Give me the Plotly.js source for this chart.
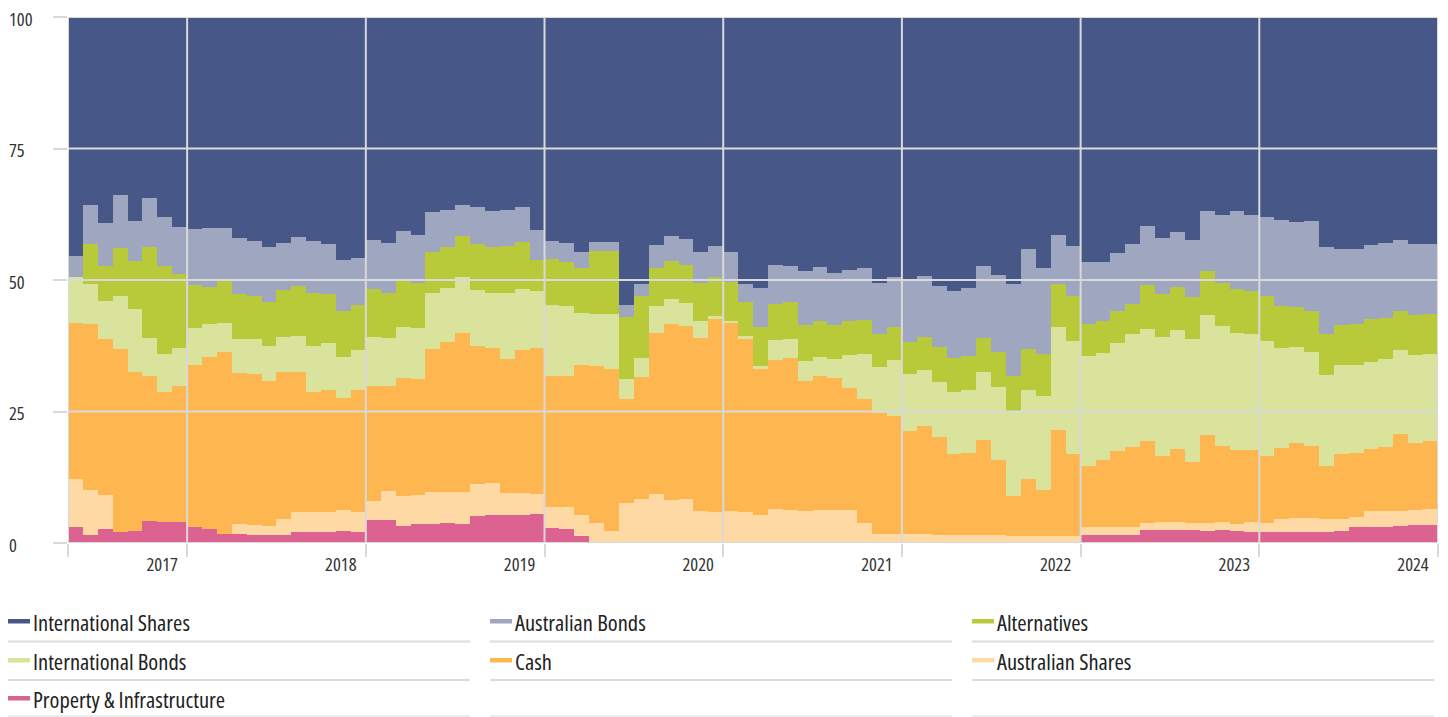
<!DOCTYPE html>
<html><head><meta charset="utf-8">
<script src="https://cdn.plot.ly/plotly-3.0.1.min.js"></script>
<style>html,body{margin:0;padding:0;background:#fff}#chart{width:1448px;height:717px}text{font-stretch:87.5% !important}</style>
</head><body><div id="chart"></div>
<script>
// Monthly asset allocation (%), Nov 2016 – Jun 2024, stacked bottom to top
const property = [3.0,1.6,2.6,2.1,2.2,4.1,4.0,3.9,3.1,2.6, 1.8,1.8,1.6,1.6,1.6,2.1,2.1,2.1,2.3,2.1, 4.3,4.3,3.3,3.6,3.7,3.8,3.6,5.2,5.3,5.3, 5.4,5.6,2.8,2.6,1.3,0,0,0,0,0, 0,0,0,0,0,0,0,0,0,0, 0,0,0,0,0,0,0,0,0,0, 0,0,0,0,0,0,0,0,1.6,1.6, 1.6,1.6,2.5,2.5,2.4,2.4,2.3,2.5,2.3,2.1, 2.0,2.0,2.1,2.0,2.0,2.3,3.0,3.0,3.1,3.2, 3.4,3.4];
const ausShares = [9.2,8.5,6.5,0,0,0,0,0,0,0, 0,1.8,1.8,1.7,3.0,3.7,3.8,3.8,4.0,3.8, 3.6,5.6,5.6,5.6,6.0,5.9,6.1,6.1,6.1,4.3, 4.1,3.8,4.0,4.2,4.0,3.8,2.2,7.7,8.4,9.4, 8.1,8.3,6.0,5.9,6.1,5.8,5.4,6.4,6.2,6.1, 6.2,6.2,6.2,3.8,1.8,1.7,1.7,1.7,1.6,1.5, 1.5,1.5,1.5,1.3,1.3,1.3,1.4,1.4,1.4,1.4, 1.4,1.4,1.3,1.4,1.5,1.4,1.5,1.4,1.3,1.8, 1.8,2.6,2.7,2.8,2.6,2.3,2.0,3.0,2.9,2.9, 2.9,3.0];
const cash = [29.7,31.6,29.6,34.8,30.4,27.6,24.7,26.0,30.8,32.8, 34.5,28.7,28.7,27.5,28.0,26.8,22.8,23.2,21.3,23.2, 22.0,20.0,22.4,21.9,27.2,28.5,30.3,26.1,25.6,25.3, 27.1,27.7,24.9,24.9,28.5,29.8,30.9,19.6,23.2,30.6, 33.6,32.9,32.9,36.6,35.8,32.9,27.7,28.4,28.9,24.7, 25.5,25.2,23.2,23.5,23.0,22.5,19.6,20.5,18.5,15.4, 15.7,18.0,14.2,7.6,10.8,8.8,20.1,15.6,11.6,12.7, 14.5,15.3,15.5,12.6,13.9,11.6,16.7,14.6,14.1,13.8, 12.8,13.4,14.3,13.7,10.1,12.3,12.2,11.9,12.2,14.6, 12.8,12.9];
const intlBonds = [8.7,7.6,7.4,10.1,11.8,7.3,7.2,7.1,7.0,6.3, 5.6,6.5,6.6,6.7,6.6,6.7,8.8,9.0,7.8,7.5, 9.2,9.0,9.8,9.8,10.6,10.3,10.6,10.7,10.6,12.7, 11.7,10.9,13.6,13.3,9.9,9.9,10.4,3.8,3.6,5.0, 4.7,4.5,3.3,0.7,0.4,0.6,0.6,3.7,3.7,3.8, 3.7,3.6,6.3,8.6,8.6,10.6,10.8,10.6,10.5,11.9, 11.9,13.0,13.9,16.2,17.0,17.8,19.6,21.4,21.0,20.4, 20.5,21.4,21.4,22.7,22.7,23.3,22.9,22.7,22.3,22.0, 21.8,19.1,18.1,17.9,17.2,17.0,16.7,16.5,16.7,16.0, 16.6,16.6];
const alternatives = [0,7.6,6.5,9.1,9.2,17.2,16.7,14.1,8.1,7.0, 7.9,8.6,8.3,8.3,8.9,9.5,10.0,9.2,8.8,8.6, 9.2,8.7,8.7,8.6,7.9,7.7,7.7,8.8,8.6,8.8, 8.9,5.8,8.7,8.4,8.6,12.1,12.1,11.9,11.8,7.3, 7.2,7.2,7.3,7.3,7.3,6.5,7.4,7.0,7.0,6.8, 6.8,6.5,6.5,6.5,6.3,6.3,6.1,6.3,6.6,6.4, 6.5,6.5,6.8,6.6,7.8,8.1,8.2,8.6,6.1,6.1, 6.2,5.7,8.3,8.2,8.2,8.1,8.4,8.3,8.3,8.3, 8.6,7.9,7.6,7.8,7.8,7.6,7.8,8.1,7.9,7.5, 7.7,7.7];
const ausBonds = [4.0,7.3,8.3,10.1,7.7,9.4,9.3,9.0,10.7,11.2, 10.0,10.5,10.4,10.4,9.0,9.3,9.9,9.5,9.6,9.0, 9.4,9.5,9.5,9.0,7.6,7.2,5.9,6.9,7.0,6.9, 6.7,5.7,3.5,3.7,3.1,1.7,1.7,2.3,2.3,4.3, 4.8,4.9,5.8,6.0,5.7,3.5,7.4,7.3,6.9,10.3, 10.3,9.8,9.7,9.9,9.8,9.4,11.7,11.7,11.6,12.8, 12.9,13.6,14.6,17.6,18.9,16.3,9.2,9.4,11.7,11.2, 11.0,11.4,11.3,10.5,10.4,10.9,11.4,12.8,14.9,14.4, 14.9,16.4,16.3,17.0,16.5,14.4,14.2,14.1,14.3,13.5, 13.4,13.3];
const intlShares = [45.4,35.8,39.1,33.8,38.7,34.4,38.1,39.9,40.3,40.1, 40.2,42.1,42.6,43.8,42.9,41.9,42.6,43.2,46.2,45.8, 42.3,42.9,40.7,41.5,37.0,36.6,35.8,36.2,36.8,36.7, 36.1,40.5,42.5,42.9,44.6,42.7,42.7,54.7,50.7,43.4, 41.6,42.2,44.7,43.5,44.7,50.7,51.5,47.2,47.3,48.3, 47.5,48.7,48.1,47.7,50.5,49.5,50.1,49.2,51.2,52.0, 51.5,47.4,49.0,50.7,44.2,47.7,41.5,43.6,46.6,46.6, 44.8,43.2,39.7,42.1,40.9,42.3,36.8,37.7,36.8,37.6, 38.1,38.6,38.9,38.8,43.8,44.1,44.1,43.4,42.9,42.3, 43.2,43.1];

const yearLabels = ['2017','2018','2019','2020','2021','2022','2023','2024'];
const yearEnds = [8,20,32,44,56,68,80,92];   // month index at which each financial year ends
const yTicks = [0,25,50,75,100];

// stacking order (bottom -> top)
const series = [
  {name:'Property & Infrastructure', values:property,     color:'#dc6391'},
  {name:'Australian Shares',         values:ausShares,    color:'#fed9a3'},
  {name:'Cash',                      values:cash,         color:'#fdb650'},
  {name:'International Bonds',       values:intlBonds,    color:'#d9e39c'},
  {name:'Alternatives',              values:alternatives, color:'#b8c93a'},
  {name:'Australian Bonds',          values:ausBonds,     color:'#9fa6bf'},
  {name:'International Shares',      values:intlShares,   color:'#465788'}
];
// legend reading order
const legendOrder = ['International Shares','Australian Bonds','Alternatives','International Bonds','Cash','Australian Shares','Property & Infrastructure'];

const FONT = '"Open Sans","DejaVu Sans Condensed",sans-serif';
const GRID = '#d9d9d9';
const n = property.length;
const xc = property.map((_, i) => i + 0.5);

const traces = series.map(s => ({
  type:'bar', x:xc, y:s.values, width:1, name:s.name, showlegend:false,
  marker:{color:s.color, line:{width:0}}, hovertemplate:'%{y}<extra>'+s.name+'</extra>'
}));

// layout geometry in pixels
const W = 1448, H = 717, L = 68, R = 10, T = 17, B = 174;
const pw = W - L - R, ph = H - T - B;
const px = v => (v - L) / pw;
const py = v => (H - B - v) / ph;

const shapes = [];
[0, ...yearEnds].forEach(v => shapes.push({type:'line', layer:'above', xref:'x', yref:'y', x0:v, x1:v, y0:0, y1:100, line:{color:GRID, width:2}}));
yTicks.forEach(v => shapes.push({type:'line', layer:'above', xref:'x', yref:'y', x0:0, x1:n, y0:v, y1:v, line:{color:GRID, width:2}}));

const annotations = yTicks.map(v => ({xref:'paper', yref:'y', x:px(7), y:v, xanchor:'left', yanchor:'middle', text:String(v), showarrow:false, font:{family:FONT, size:18.5, color:'#333'}, yshift:-1}));

// legend: 3 columns with underline rules
const colX = [8, 490, 972], rowY = [622, 661, 699], ruleY = [641.5, 680, 716], colW = 462;
legendOrder.forEach((name, k) => {
  const s = series.find(d => d.name === name);
  const c = k % 3, r = Math.floor(k / 3);
  const x0 = colX[c], y0 = rowY[r];
  shapes.push({type:'rect', xref:'paper', yref:'paper', x0:px(x0), x1:px(x0+22), y0:py(y0+1.5), y1:py(y0-3), fillcolor:s.color, line:{width:0}});
  annotations.push({xref:'paper', yref:'paper', x:px(x0+23), y:py(y0), xanchor:'left', yanchor:'middle', text:name, showarrow:false, font:{family:FONT, size:22.5, color:'#222'}});
});
ruleY.forEach((y, r) => colX.forEach(x0 => shapes.push({type:'line', xref:'paper', yref:'paper', x0:px(x0), x1:px(x0+colW), y0:py(y), y1:py(y), line:{color: r === 2 ? '#ececec' : '#dcdcdc', width:2}})));

const layout = {
  width:W, height:H, margin:{l:L, r:R, t:T, b:B},
  paper_bgcolor:'#fff', plot_bgcolor:'#fff',
  barmode:'stack', bargap:0, showlegend:false,
  font:{family:FONT, size:18.5, color:'#333'},
  xaxis:{range:[0,n], tickvals:[0, ...yearEnds], ticktext:['', ...yearLabels], ticks:'outside', ticklen:13, tickwidth:2, tickcolor:GRID,
         showgrid:false, zeroline:false, showline:false, ticklabelshift:-25, ticklabelstandoff:-8, tickfont:{family:FONT, size:18.5, color:'#333'}},
  yaxis:{range:[0,100], tickvals:yTicks, showticklabels:false, ticks:'outside', ticklen:14, tickwidth:2, tickcolor:GRID,
         showgrid:false, zeroline:false, showline:false},
  shapes, annotations
};
Plotly.newPlot('chart', traces, layout, {displayModeBar:false, staticPlot:true});
</script></body></html>
